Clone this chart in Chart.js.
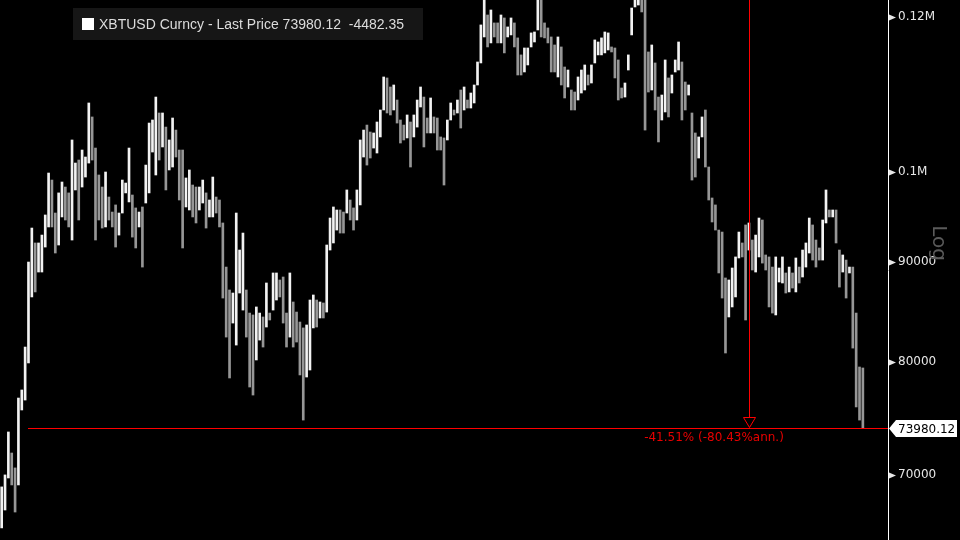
<!DOCTYPE html>
<html>
<head>
<meta charset="utf-8">
<script src="https://cdn.jsdelivr.net/npm/chart.js@4.4.1/dist/chart.umd.min.js"></script>
<style>
  html, body { margin: 0; padding: 0; background: #000; }
  #wrap { width: 960px; height: 540px; position: relative; }
</style>
</head>
<body>
<div id="wrap"><canvas id="chart"></canvas></div>
<script>
// bar highs / lows (USD)
const highs = [
  69040, 70020, 73650, 71850, 70600, 76650, 77380, 81390, 89950, 93620,
  91990, 91990, 92850, 95070, 99880, 99060, 95290, 97570, 98830, 98250,
  97570, 103840, 101060, 101420, 102620, 101780, 108460, 106690, 102860, 99650,
  98250, 100000, 97100, 95400, 96200, 95290, 99060, 98710, 102860, 97330,
  95860, 95400, 95970, 100820, 105930, 106310, 109220, 107190, 107190, 105430,
  103840, 106560, 105060, 102620, 102620, 99300, 100240, 98480, 98250, 98250,
  99060, 97570, 96760, 99410, 97100, 96760, 94180, 89420, 87040, 86730,
  95290, 91230, 93070, 87040, 84710, 84520, 85320, 84710, 84320, 87760,
  84710, 88800, 88800, 88070, 88380, 84710, 88800, 85820, 84810, 83820,
  83240, 83530, 86020, 86530, 86020, 85820, 85720, 91770, 94730, 95970,
  95630, 95630, 95400, 97910, 96760, 95860, 97910, 103840, 105060, 105680,
  104820, 104700, 106060, 107570, 111830, 111700, 110520, 110780, 108840, 106310,
  105680, 106940, 106060, 106940, 108840, 110520, 109220, 106560, 109100, 106690,
  106560, 104210, 104090, 106310, 108460, 107570, 108840, 110130, 110520, 108840,
  109740, 110780, 113820, 118890, 123000, 120290, 121000, 119170, 119170, 120290,
  119870, 118610, 119870, 119170, 117090, 114770, 115710, 115710, 117780, 117910,
  123500, 123000, 119170, 118470, 117220, 116120, 117220, 115850, 113150, 112750,
  110130, 109870, 111830, 112750, 113420, 112090, 113420, 116810, 116530, 117090,
  117910, 117780, 115850, 115710, 114090, 110390, 111040, 114770, 121280, 123800,
  124000, 123500, 123000, 115170, 116120, 113690, 109220, 109480, 114090, 111700,
  112090, 114090, 116530, 113820, 111170, 110780, 107190, 104700, 104210, 106690,
  107570, 100590, 96990, 96200, 93400, 93180, 88280, 88070, 89320, 90490,
  93180, 91990, 93960, 94180, 92310, 92850, 94730, 94510, 90700, 90490,
  89420, 90490, 89320, 90490, 88800, 89420, 88800, 90380, 89420, 91230,
  91990, 94730, 93960, 92310, 91450, 94510, 97910, 95630, 95630, 95630,
  91230, 90700, 90160, 89420, 89420, 84710, 79500, 79410
];
const lows = [
  65790, 67190, 69770, 69200, 67030, 69200, 75580, 76470, 79880, 86330,
  86840, 88900, 88900, 91550, 93740, 93740, 90910, 91770, 94850, 94510,
  93740, 92310, 97910, 94510, 98250, 99410, 101060, 101420, 92310, 94510,
  93620, 93740, 94510, 93740, 91550, 92850, 95290, 97570, 96540, 92630,
  91450, 93740, 89420, 96420, 97570, 102380, 99650, 101420, 102990, 97910,
  100240, 100590, 101780, 96760, 91450, 95970, 95630, 94850, 94180, 95630,
  96420, 93620, 94850, 94850, 95290, 93740, 86220, 82350, 78480, 83720,
  81580, 86730, 85010, 82350, 77650, 76920, 80160, 82060, 81390, 83330,
  84020, 85010, 86020, 86330, 83720, 81390, 82350, 81390, 81870, 78760,
  74690, 78570, 79220, 83240, 83330, 84220, 84220, 84810, 91230, 91990,
  93400, 93070, 93070, 95290, 94510, 93400, 94510, 96200, 101780, 100820,
  101660, 102860, 102260, 104210, 107570, 107190, 106940, 107570, 105930, 103470,
  103840, 104090, 100590, 104210, 105430, 107950, 102990, 104700, 104700, 104700,
  102620, 102620, 98480, 103840, 106310, 106940, 107190, 105310, 107570, 107820,
  107820, 108460, 110780, 113690, 117220, 115850, 116400, 117220, 116400, 116400,
  115040, 117220, 117500, 115850, 112090, 112090, 112490, 113420, 115850, 116530,
  118190, 117220, 117090, 116400, 112490, 112490, 111830, 110780, 109100, 110520,
  107570, 107570, 108840, 109740, 110130, 110780, 111040, 113690, 114770, 114770,
  115040, 115440, 115170, 111700, 108840, 109100, 109220, 112750, 117500, 121430,
  121710, 120720, 105060, 109870, 110130, 107570, 103600, 106310, 107320, 106690,
  109740, 112490, 112750, 106310, 107570, 109480, 99060, 99410, 101660, 104210,
  100590, 96760, 94290, 93400, 88800, 86220, 80820, 84320, 85320, 86330,
  90380, 90490, 84020, 91230, 89110, 88900, 90490, 89840, 89110, 85320,
  84710, 84520, 87860, 87760, 86730, 86840, 87240, 86840, 87760, 88380,
  89420, 90910, 90160, 89420, 90160, 90160, 94180, 94850, 94850, 91990,
  87340, 88900, 86220, 88800, 81290, 75850, 74690, 73980.12
];
const lastPrice = 73980.12;
const netChange = -4482.35;
const changeText = '-41.51% (-80.43%ann.)';
const markerBar = 223;   // bar where the red marker sits
const lineStartBar = 8;  // bar where the red price line starts
const yTicks = [70000, 80000, 90000, 100000, 120000];
const yTickLabels = ['70000', '80000', '90000', '0.1M', '0.12M'];
const emptySlots = 7;

const labels = highs.map((_, i) => String(i + 1));
for (let i = 0; i < emptySlots; i++) labels.push('');

const ranges = highs.map((h, i) => [lows[i], h]);
// white when the bar moved up from the previous one, grey otherwise
const colors = ranges.map((r, i) => {
  if (i === 0) return '#f2f2f2';
  const mid = (r[0] + r[1]) / 2;
  const prev = (ranges[i - 1][0] + ranges[i - 1][1]) / 2;
  return mid >= prev ? '#f2f2f2' : '#969696';
});

const overlay = {
  id: 'overlay',
  beforeDraw(chart) {
    const ctx = chart.ctx;
    ctx.save();
    ctx.fillStyle = '#000';
    ctx.fillRect(0, 0, chart.width, chart.height);
    ctx.restore();
  },
  afterDraw(chart) {
    const ctx = chart.ctx;
    const xs = chart.scales.x;
    const ys = chart.scales.y;
    const area = chart.chartArea;
    ctx.save();

    // tick arrowheads on the axis
    ctx.fillStyle = '#e6e6e6';
    yTicks.forEach(v => {
      const ty = Math.round(ys.getPixelForValue(v)) + 0.5;
      ctx.beginPath();
      ctx.moveTo(area.right + 1, ty - 3);
      ctx.lineTo(area.right + 8, ty);
      ctx.lineTo(area.right + 1, ty + 3);
      ctx.closePath();
      ctx.fill();
    });

    // red price line + marker
    const py = Math.round(ys.getPixelForValue(lastPrice));
    const x0 = Math.round(xs.getPixelForValue(lineStartBar));
    const mx = Math.round(xs.getPixelForValue(markerBar));
    ctx.fillStyle = '#ff0000';
    ctx.fillRect(x0, py, area.right - x0, 1);
    ctx.fillRect(mx, area.top, 1, py - 11 - area.top);
    ctx.strokeStyle = '#ff0000';
    ctx.lineWidth = 1;
    ctx.beginPath();
    ctx.moveTo(mx - 5.5, py - 10.5);
    ctx.lineTo(mx + 6.5, py - 10.5);
    ctx.lineTo(mx + 0.5, py - 0.5);
    ctx.closePath();
    ctx.stroke();

    ctx.fillStyle = '#e80000';
    ctx.font = '12px "DejaVu Sans"';
    ctx.textAlign = 'center';
    ctx.textBaseline = 'middle';
    ctx.fillText(changeText, mx - 35, py + 10);

    // last price tag on the axis
    const ty = py + 0.5;
    ctx.fillStyle = '#ffffff';
    ctx.beginPath();
    ctx.moveTo(area.right + 1, ty);
    ctx.lineTo(area.right + 8, ty - 8.5);
    ctx.lineTo(957, ty - 8.5);
    ctx.lineTo(957, ty + 8.5);
    ctx.lineTo(area.right + 8, ty + 8.5);
    ctx.closePath();
    ctx.fill();
    ctx.fillStyle = '#000';
    ctx.textAlign = 'left';
    ctx.fillText(lastPrice.toFixed(2), area.right + 10, ty + 1);

    // "Log" axis mark
    ctx.save();
    ctx.translate(938, 243);
    ctx.rotate(Math.PI / 2);
    ctx.fillStyle = '#5a5a5a';
    ctx.font = '20px "DejaVu Sans"';
    ctx.textAlign = 'center';
    ctx.fillText('Log', 0, 0);
    ctx.restore();

    // legend box
    ctx.fillStyle = '#161616';
    ctx.fillRect(73, 8, 350, 32);
    ctx.fillStyle = '#ffffff';
    ctx.fillRect(82, 18, 12, 12);
    ctx.fillStyle = '#dcdcdc';
    ctx.font = '14px "Liberation Sans"';
    ctx.textAlign = 'left';
    ctx.fillText('XBTUSD Curncy - Last Price ' + lastPrice.toFixed(2) + '  ' + netChange.toFixed(2), 99, 25);

    ctx.restore();
  }
};

new Chart(document.getElementById('chart'), {
  type: 'bar',
  data: {
    labels: labels,
    datasets: [{
      data: ranges,
      backgroundColor: colors,
      borderWidth: 0,
      barThickness: 2
    }]
  },
  options: {
    responsive: true,
    maintainAspectRatio: false,
    animation: false,
    devicePixelRatio: 1,
    layout: { padding: 0 },
    plugins: {
      legend: { display: false },
      tooltip: { enabled: false }
    },
    scales: {
      x: {
        type: 'category',
        display: false,
        offset: true
      },
      y: {
        type: 'logarithmic',
        position: 'right',
        min: 64860,
        max: 122430,
        bounds: 'data',
        border: { display: true, color: '#ffffff', width: 1 },
        grid: { display: false, drawTicks: false },
        afterBuildTicks: scale => {
          scale.ticks = yTicks.map(v => ({ value: v }));
        },
        afterFit: scale => {
          scale.width = 72;
          scale.paddingTop = 0;
          scale.paddingBottom = 0;
        },
        ticks: {
          color: '#e6e6e6',
          padding: 10,
          autoSkip: false,
          font: { family: 'DejaVu Sans', size: 12 },
          callback: (v, i) => yTickLabels[i]
        }
      }
    }
  },
  plugins: [overlay]
});
</script>
</body>
</html>
